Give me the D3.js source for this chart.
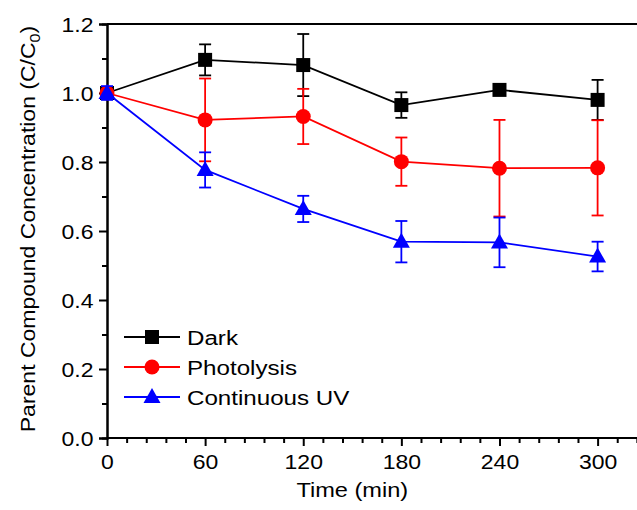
<!DOCTYPE html>
<html><head><meta charset="utf-8">
<script src="https://cdn.jsdelivr.net/npm/d3@7"></script>
<style>body{margin:0;background:#fff}svg{display:block}text{font-family:"Liberation Sans",Arial,sans-serif}</style>
</head><body>
<script>
const times = [0, 60, 120, 180, 240, 300];
const seriesNames = ["Dark", "Photolysis", "Continuous UV"];
const darkVals = [1.000, 1.096, 1.081, 0.965, 1.009, 0.980];
const darkErr  = [0.015, 0.045, 0.090, 0.037, 0.015, 0.058];
const photoVals = [1.000, 0.922, 0.932, 0.801, 0.782, 0.783];
const photoErr  = [0.010, 0.120, 0.080, 0.070, 0.140, 0.138];
const uvVals = [1.000, 0.777, 0.664, 0.569, 0.567, 0.526];
const uvErr  = [0.020, 0.051, 0.038, 0.060, 0.072, 0.043];
const xTicks = [0, 60, 120, 180, 240, 300];
const yTicks = [0.0, 0.2, 0.4, 0.6, 0.8, 1.0, 1.2];

const W = 637, H = 510, SX = 1.15, FS = 20;
const svg = d3.select("body").append("svg").attr("width", W).attr("height", H);
const x = d3.scaleLinear().domain([0, 330]).range([107, 107 + 330 * (490.6 / 300)]);
const y = d3.scaleLinear().domain([0, 1.2]).range([438, 24]);

const series = [
  {name: seriesNames[0], vals: darkVals, err: darkErr, color: "#000000", shape: "square"},
  {name: seriesNames[1], vals: photoVals, err: photoErr, color: "#ff0000", shape: "circle"},
  {name: seriesNames[2], vals: uvVals, err: uvErr, color: "#0000ff", shape: "triangle"}
];

// Frame top
svg.append("line").attr("x1", x(0)).attr("x2", W).attr("y1", y(1.2)).attr("y2", y(1.2))
  .attr("stroke", "#000").attr("stroke-width", 2);

// X axis
const xMinor = d3.range(0, 331, 12).filter(v => v % 60 !== 0);
const xAx = svg.append("g").attr("transform", `translate(0,${y(0)})`);
xAx.call(d3.axisBottom(x).tickValues(xMinor).tickSize(5).tickFormat(""));
xAx.append("g").call(d3.axisBottom(x).tickValues(xTicks).tickSize(8).tickFormat(d3.format("d")));
xAx.selectAll(".domain").attr("stroke-width", 2).attr("d", `M${x(0)},0H${W}`);
xAx.selectAll(".tick line").attr("stroke-width", 2);
xAx.selectAll("text").attr("font-size", FS).attr("y", 31).attr("dy", null).attr("x", 0)
  .attr("transform", `scale(${SX},1)`).attr("fill", "#000");

// Y axis
const yAx = svg.append("g").attr("transform", `translate(${x(0)},0)`);
yAx.call(d3.axisLeft(y).tickValues(d3.range(1, 12, 2).map(v => v / 10)).tickSize(5).tickFormat(""));
yAx.append("g").call(d3.axisLeft(y).tickValues(yTicks).tickSize(8).tickFormat(d3.format(".1f")));
yAx.selectAll(".domain").attr("stroke-width", 2);
yAx.selectAll(".tick line").attr("stroke-width", 2);
yAx.selectAll("text").attr("font-size", FS).attr("x", -13.5 / SX).attr("dy", "0.36em")
  .attr("transform", `scale(${SX},1)`).attr("fill", "#000");

// Axis titles
svg.append("text").attr("transform", `translate(${x(150)},497) scale(${SX},1)`).attr("text-anchor", "middle")
  .attr("font-size", 20.5).text("Time (min)");
const yt = svg.append("text").attr("transform", `translate(35,${y(0.6) - 2}) rotate(-90) scale(${SX},1)`)
  .attr("text-anchor", "middle").attr("font-size", FS);
yt.append("tspan").text("Parent Compound Concentration (C/C");
yt.append("tspan").attr("font-size", 14).attr("dy", 5).text("0");
yt.append("tspan").attr("dy", -5).text(")");

function marker(g, shape, color, cx, cy) {
  if (shape === "square") {
    g.append("rect").attr("x", cx - 7).attr("y", cy - 7).attr("width", 14).attr("height", 14).attr("fill", color);
  } else if (shape === "circle") {
    g.append("circle").attr("cx", cx).attr("cy", cy).attr("r", 7.5).attr("fill", color);
  } else {
    g.append("path").attr("d", `M${cx},${cy - 9}L${cx + 8.5},${cy + 6}L${cx - 8.5},${cy + 6}Z`).attr("fill", color);
  }
}

// Draw series
series.forEach(s => {
  const g = svg.append("g");
  const line = d3.line().x((d, i) => x(times[i])).y(d => y(d));
  g.append("path").attr("d", line(s.vals)).attr("fill", "none").attr("stroke", s.color).attr("stroke-width", 1.8);
  s.vals.forEach((v, i) => {
    const cx = x(times[i]);
    const top = y(v + s.err[i]), bot = y(v - s.err[i]);
    g.append("line").attr("x1", cx).attr("x2", cx).attr("y1", top).attr("y2", bot).attr("stroke", s.color).attr("stroke-width", 1.8);
    [top, bot].forEach(yy => g.append("line").attr("x1", cx - 6).attr("x2", cx + 6).attr("y1", yy).attr("y2", yy)
      .attr("stroke", s.color).attr("stroke-width", 1.8));
  });
  s.vals.forEach((v, i) => marker(g, s.shape, s.color, x(times[i]), y(v)));
});

// Legend
const legY = [337, 367, 397];
series.forEach((s, i) => {
  const g = svg.append("g");
  g.append("line").attr("x1", 124).attr("x2", 180).attr("y1", legY[i]).attr("y2", legY[i])
    .attr("stroke", s.color).attr("stroke-width", 1.8);
  marker(g, s.shape, s.color, 152, legY[i]);
  g.append("text").attr("transform", `translate(187,${legY[i]}) scale(${SX},1)`).attr("dy", "0.36em")
    .attr("font-size", 21).text(s.name);
});
</script>
</body></html>
